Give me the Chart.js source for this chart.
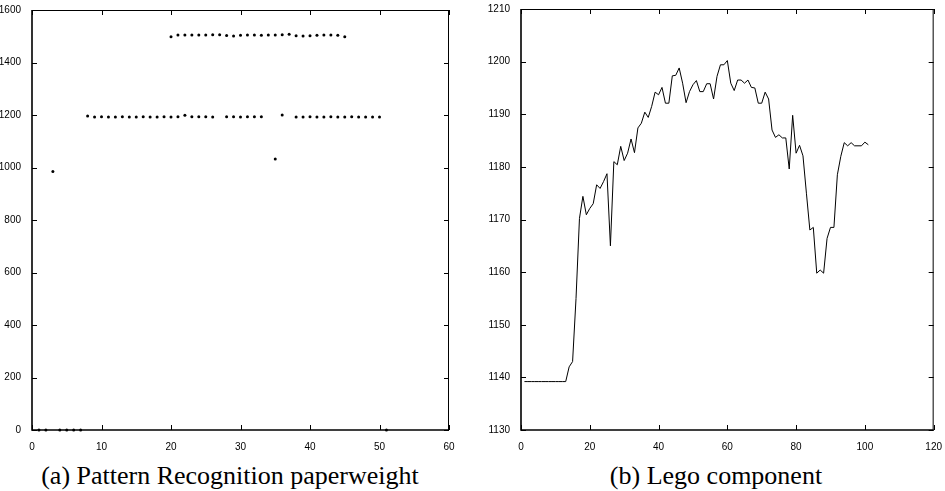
<!DOCTYPE html>
<html>
<head>
<meta charset="utf-8">
<script src="https://cdn.jsdelivr.net/npm/chart.js@4.4.1/dist/chart.umd.min.js"></script>
<style>
	body { margin: 0; background: #fff; width: 945px; height: 491px; position: relative; overflow: hidden; }
	canvas { position: absolute; top: 0; }
	#leftChart { left: 0; }
	#rightChart { left: 480px; }
	.caption { position: absolute; top: 463px; width: 400px; text-align: center; font-family: 'Liberation Serif', 'Times New Roman', serif; font-size: 26px; line-height: 26px; color: #000; white-space: nowrap; }
</style>
</head>
<body>
<canvas id="leftChart" width="470" height="450"></canvas>
<canvas id="rightChart" width="465" height="450"></canvas>
<div class="caption" style="left:30px">(a) Pattern Recognition paperweight</div>
<div class="caption" style="left:516px">(b) Lego component</div>
<script>
// (a) paperweight: one dot per detection, x = frame, y = value
var pwX = [1, 2, 3, 4, 5, 6, 7, 51, 35,
	8, 9, 10, 11, 12, 13, 14, 15, 16, 17, 18, 19, 20, 21, 22, 23, 24, 25, 26,
	28, 29, 30, 31, 32, 33, 36, 38, 39, 40, 41, 42, 43, 44, 45, 46, 47, 48, 49, 50,
	20, 21, 22, 23, 24, 25, 26, 27, 28, 29, 30, 31, 32, 33, 34, 35, 36, 37, 38, 39, 40, 41, 42, 43, 44, 45];
var pwY = [0, 0, 985, 0, 0, 0, 0, 0, 1032,
	1196, 1192, 1193, 1192, 1192, 1193, 1192, 1192, 1193, 1192, 1192, 1193, 1192, 1193, 1199, 1193, 1193, 1193, 1192,
	1193, 1193, 1192, 1193, 1193, 1193, 1200, 1192, 1192, 1193, 1192, 1192, 1193, 1192, 1192, 1193, 1192, 1192, 1192, 1192,
	1498, 1505, 1505, 1505, 1505, 1505, 1506, 1506, 1503, 1501, 1504, 1505, 1505, 1504, 1505, 1505, 1506, 1508, 1502, 1501, 1502, 1504, 1505, 1505, 1504, 1498];

// (b) lego component, frames 1..101
var legoValues = [
	1139.2, 1139.2, 1139.2, 1139.2, 1139.2, 1139.2, 1139.2, 1139.2, 1139.2, 1139.2,
	1139.2, 1139.2, 1139.2, 1142.0, 1143.0, 1155.0, 1170.2, 1174.4, 1170.9, 1172.1,
	1173.0, 1176.6, 1175.9, 1177.2, 1178.7, 1165.0, 1181.0, 1180.4, 1183.9, 1181.2,
	1182.6, 1185.3, 1182.7, 1187.4, 1188.3, 1190.4, 1189.4, 1191.5, 1194.2, 1193.7,
	1195.1, 1192.1, 1192.1, 1197.3, 1197.4, 1198.8, 1195.9, 1192.2, 1194.3, 1195.6,
	1196.4, 1194.3, 1194.3, 1195.8, 1195.8, 1192.9, 1197.2, 1199.4, 1199.4, 1200.2,
	1195.9, 1194.5, 1196.5, 1196.5, 1195.9, 1196.5, 1195.1, 1195.0, 1192.1, 1192.1,
	1194.2, 1192.9, 1187.0, 1185.6, 1186.1, 1185.5, 1185.5, 1179.6, 1189.8, 1182.6,
	1184.1, 1182.1, 1175.0, 1168.0, 1168.5, 1159.8, 1160.4, 1159.8, 1166.4, 1168.5,
	1168.5, 1178.5, 1182.0, 1184.6, 1184.0, 1184.6, 1184.0, 1184.0, 1184.0, 1184.7,
	1184.2];

var tickFont = { family: "'Liberation Sans', Arial, sans-serif", size: 10 };

// matlab style box with ticks pointing inwards
var frameTicks = {
	id: 'frameTicks',
	afterDraw: function(chart){
		var ctx = chart.ctx, a = chart.chartArea;
		var xs = chart.scales.x, ys = chart.scales.y;
		ctx.save();
		ctx.strokeStyle = '#000';
		ctx.lineWidth = 1;
		ctx.beginPath();
		xs.ticks.forEach(function(t){
			var px = Math.round(xs.getPixelForValue(t.value)) + 0.5;
			ctx.moveTo(px, a.bottom); ctx.lineTo(px, a.bottom - 5);
			ctx.moveTo(px, a.top); ctx.lineTo(px, a.top + 5);
		});
		ys.ticks.forEach(function(t){
			var py = Math.round(ys.getPixelForValue(t.value)) + 0.5;
			ctx.moveTo(a.left, py); ctx.lineTo(a.left + 5, py);
			ctx.moveTo(a.right, py); ctx.lineTo(a.right - 5, py);
		});
		ctx.moveTo(a.left, a.top + 0.5); ctx.lineTo(a.right, a.top + 0.5);
		ctx.moveTo(a.right - 0.5, a.top); ctx.lineTo(a.right - 0.5, a.bottom);
		ctx.stroke();
		ctx.lineWidth = 1.6;
		ctx.beginPath();
		ctx.moveTo(a.left, a.top); ctx.lineTo(a.left, a.bottom); ctx.lineTo(a.right, a.bottom);
		ctx.stroke();
		ctx.restore();
	}
};

function axis(min, max, step, size){
	return {
		type: 'linear', min: min, max: max,
		grid: { display: false },
		border: { display: false },
		ticks: {
			stepSize: step, color: '#000', font: tickFont, padding: 3, maxRotation: 0,
			callback: function(v){ return String(v); } // no thousands separator
		},
		afterFit: function(s){
			if (s.isHorizontal()) s.height = size; else s.width = size;
		}
	};
}

var pwPoints = pwX.map(function(x, i){ return { x: x, y: pwY[i] }; });
new Chart(document.getElementById('leftChart'), {
	type: 'scatter',
	data: { datasets: [{
		data: pwPoints,
		pointRadius: 1.5,
		pointBackgroundColor: '#000',
		pointBorderWidth: 0,
		clip: false
	}]},
	options: {
		responsive: false, animation: false, devicePixelRatio: 1,
		layout: { padding: { top: 10, right: 21, left: 0, bottom: 0 } },
		plugins: { legend: { display: false }, tooltip: { enabled: false } },
		scales: { x: axis(0, 60, 10, 20), y: axis(0, 1600, 200, 32) }
	},
	plugins: [frameTicks]
});

var legoPoints = legoValues.map(function(v, i){ return { x: i + 1, y: v }; });
new Chart(document.getElementById('rightChart'), {
	type: 'line',
	data: { datasets: [{
		data: legoPoints,
		borderColor: '#000',
		borderWidth: 1,
		pointRadius: 0,
		tension: 0,
		fill: false
	}]},
	options: {
		responsive: false, animation: false, devicePixelRatio: 1,
		layout: { padding: { top: 9, right: 10, left: 0, bottom: 0 } },
		plugins: { legend: { display: false }, tooltip: { enabled: false } },
		scales: { x: axis(0, 120, 20, 20), y: axis(1130, 1210, 10, 41) }
	},
	plugins: [frameTicks]
});
</script>
</body>
</html>
